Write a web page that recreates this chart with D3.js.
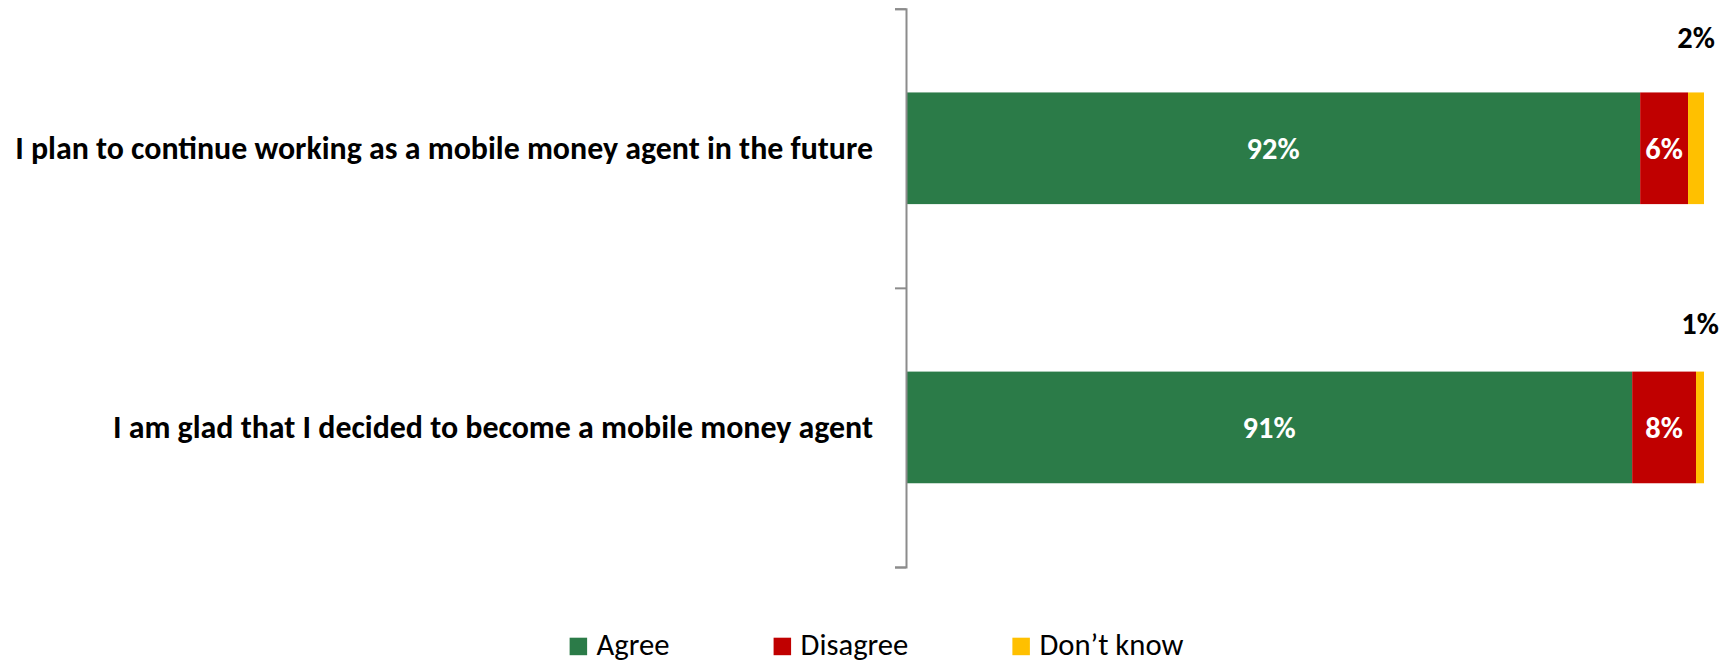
<!DOCTYPE html>
<html>
<head>
<meta charset="utf-8">
<script src="https://cdn.jsdelivr.net/npm/d3@7"></script>
<style>
  html, body { margin: 0; padding: 0; background: #ffffff; }
  svg { display: block; }
  text { font-family: Carlito, "Liberation Sans Narrow", "Open Sans", "Noto Sans", sans-serif; }
</style>
</head>
<body>
<svg id="chart" width="1729" height="662"></svg>
<script>
// Survey statements (top to bottom)
const categories = [
  "I plan to continue working as a mobile money agent in the future",
  "I am glad that I decided to become a mobile money agent"
];
// Response shares, in percent
const agree    = [92, 91];
const disagree = [6, 8];
const dontKnow = [2, 1];
const seriesNames = ["Agree", "Disagree", "Don’t know"];
const seriesColors = ["#2B7B48", "#C00000", "#FFC000"];

const W = 1729, H = 662;
const svg = d3.select("#chart");

const plot = { left: 906, right: 1704, top: 8.7, bottom: 567 };

const x = d3.scaleLinear().domain([0, 100]).range([plot.left, plot.right]);
const y = d3.scaleBand().domain(categories)
  .range([plot.top, plot.bottom])
  .paddingInner(0.6).paddingOuter(0.3);

const series = [agree, disagree, dontKnow];
const rows = categories.map((c, i) => {
  const r = { category: c };
  seriesNames.forEach((s, j) => r[s] = series[j][i]);
  return r;
});
const stacked = d3.stack().keys(seriesNames)(rows);

// Fit a font size so a sample string spans a given width
function fitSize(str, weight, targetWidth) {
  const t = svg.append("text").attr("font-size", 100).attr("font-weight", weight).text(str);
  const w = t.node().getComputedTextLength();
  t.remove();
  return 100 * targetWidth / w;
}
const catSize = Math.min(32, fitSize(categories[0], "bold", 858));
const valSize = Math.min(32, fitSize("92%", "bold", 53));
const legSize = Math.min(32, fitSize("Agree", "normal", 73));

// Bars
const layer = svg.append("g").selectAll("g")
  .data(stacked).join("g")
  .attr("fill", (d, i) => seriesColors[i]);
layer.selectAll("rect")
  .data(d => d).join("rect")
  .attr("x", d => x(d[0]))
  .attr("y", d => y(d.data.category))
  .attr("width", d => x(d[1]) - x(d[0]))
  .attr("height", y.bandwidth());

// Category axis with ticks at band boundaries
const n = categories.length;
const boundary = d3.scaleLinear().domain([0, n]).range([plot.top, plot.bottom]);
const axis = svg.append("g")
  .attr("transform", `translate(${plot.left},0)`)
  .call(d3.axisLeft(boundary).tickValues(d3.range(n + 1)).tickSize(11).tickSizeOuter(11).tickFormat(""));
axis.selectAll("path, line").attr("stroke", "#8C8C8C").attr("stroke-width", 2);

// Category labels
svg.append("g").selectAll("text")
  .data(categories).join("text")
  .attr("x", 873)
  .attr("y", d => y(d) + y.bandwidth() / 2)
  .attr("dy", "0.34em")
  .attr("text-anchor", "end")
  .attr("font-weight", "bold")
  .attr("font-size", catSize)
  .attr("fill", "#000")
  .text(d => d);

// Value labels inside the Agree and Disagree segments
const fmt = v => v + "%";
stacked.slice(0, 2).forEach(s => {
  svg.append("g").selectAll("text")
    .data(s).join("text")
    .attr("x", d => (x(d[0]) + x(d[1])) / 2)
    .attr("y", d => y(d.data.category) + y.bandwidth() / 2)
    .attr("dy", "0.34em")
    .attr("text-anchor", "middle")
    .attr("font-weight", "bold")
    .attr("font-size", valSize)
    .attr("fill", "#fff")
    .text(d => fmt(d[1] - d[0]));
});

// Don't-know labels sit above the thin segment
const dkLift = [55, 48];
svg.append("g").selectAll("text")
  .data(stacked[2]).join("text")
  .attr("x", d => (x(d[0]) + x(d[1])) / 2)
  .attr("y", (d, i) => y(d.data.category) - dkLift[i])
  .attr("dy", "0.34em")
  .attr("text-anchor", "middle")
  .attr("font-weight", "bold")
  .attr("font-size", valSize)
  .attr("fill", "#000")
  .text(d => fmt(d[1] - d[0]));

// Legend, laid out left to right and centred
const legend = svg.append("g");
const items = legend.selectAll("g").data(seriesNames).join("g");
items.append("rect")
  .attr("width", 17.5).attr("height", 17.5)
  .attr("y", 637.7)
  .attr("fill", (d, i) => seriesColors[i]);
items.append("text")
  .attr("x", 27)
  .attr("y", 655)
  .attr("font-size", legSize)
  .attr("fill", "#000")
  .text(d => d);
let cursor = 0;
items.each(function () {
  const g = d3.select(this);
  g.attr("transform", `translate(${cursor},0)`);
  const tw = g.select("text").node().getComputedTextLength();
  cursor += 27 + tw + 104;
});
const legendWidth = cursor - 104;
legend.attr("transform", `translate(${876.5 - legendWidth / 2},0)`);
</script>
</body>
</html>
